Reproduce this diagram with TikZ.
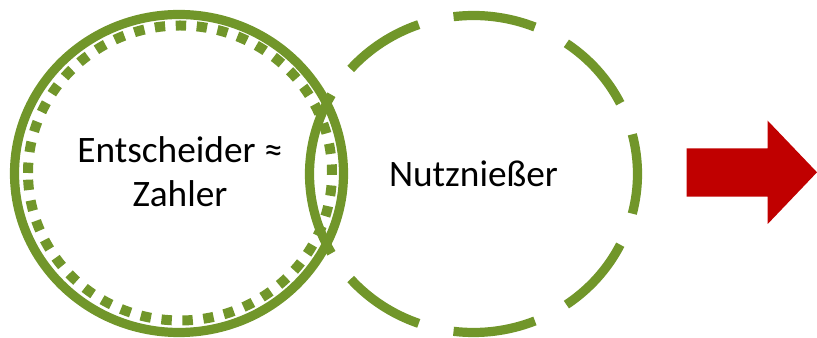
\documentclass[tikz,border=0pt]{standalone}
\usepackage{fontspec}
\setmainfont{Carlito}
\usetikzlibrary{calc}
\definecolor{leaf}{RGB}{113,150,42}
\definecolor{signal}{RGB}{192,0,0}
\begin{document}
\begin{tikzpicture}[x=0.75pt,y=0.75pt,
  ring/.style={draw=leaf,line width=6.9pt,line cap=butt},
  lbl/.style={font=\fontsize{28}{34}\selectfont,inner sep=0pt,anchor=base}]
\useasboundingbox (0,0) rectangle (817,338);
\coordinate (lc) at (179,164.5);
\coordinate (dc) at (180,165);
\coordinate (rc) at (473.5,164);
% solid ring of the deciding party
\draw[ring] (lc) ellipse [x radius=164.5, y radius=159];
% dotted inner ring
\draw[ring, line width=7.5pt, dash pattern=on 7.8pt off 7.95pt]
  (dc) ++(180:152 and 147.5) arc[start angle=180, end angle=-180, x radius=152, y radius=147.5];
% dashed ring of the beneficiary
\foreach \c in {0,41,82.5,124,-41,-82.5,-124}
  \draw[ring] (rc) ++(\c-14.5:164 and 158.5)
    arc[start angle=\c-14.5, end angle=\c+14.5, x radius=164, y radius=158.5];
% overlap: solid part of the beneficiary ring
\draw[ring] (rc) ++(150:164 and 158.5)
  arc[start angle=150, end angle=210, x radius=164, y radius=158.5];
% labels
\node[lbl] (ent) at (180,175) {Entscheider ≈};
\node[lbl] (zah) at (180,131) {Zahler};
\node[lbl] (nutz) at (473.5,151) {Nutznießer};
% block arrow
\fill[signal] (686.7,189.7) -- (767.7,189.7) -- (767.7,217.3) -- (817,165.7)
  -- (767.7,114) -- (767.7,141.3) -- (686.7,141.3) -- cycle;
\end{tikzpicture}
\end{document}
